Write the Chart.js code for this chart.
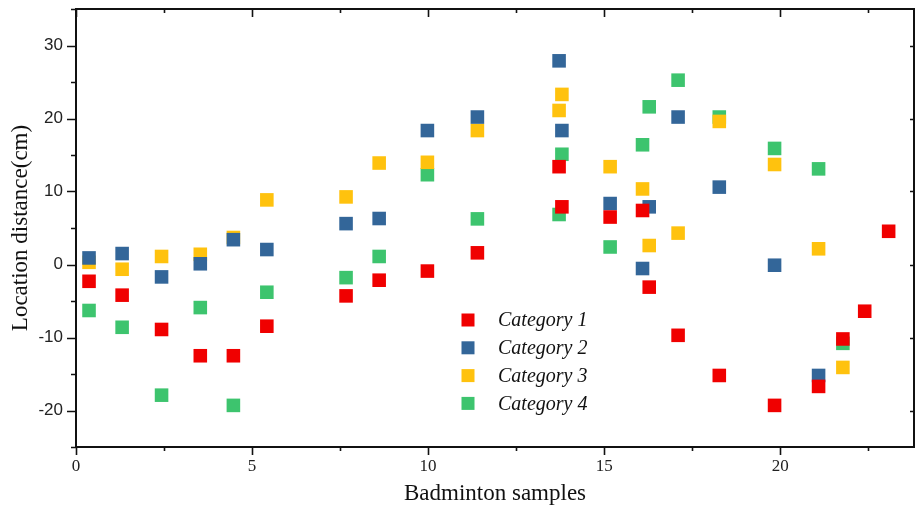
<!DOCTYPE html>
<html>
<head>
<meta charset="utf-8">
<script src="https://cdn.jsdelivr.net/npm/chart.js@4.4.1/dist/chart.umd.min.js"></script>
<style>
  html, body { margin: 0; padding: 0; background: #fff; }
  #wrap { width: 916px; height: 512px; }
</style>
</head>
<body>
<div id="wrap"><canvas id="chart" width="916" height="512"></canvas></div>
<script>
const cat1X = [0.37, 1.31, 2.43, 3.53, 4.47, 5.42, 7.67, 8.61, 9.98, 11.4, 13.72, 13.8, 15.17, 16.09, 16.28, 17.1, 18.27, 19.84, 21.09, 21.78, 22.4, 23.08];
const cat1Y = [-2.3, -4.2, -8.9, -12.5, -12.5, -8.45, -4.3, -2.15, -0.9, 1.6, 13.4, 7.9, 6.5, 7.4, -3.1, -9.7, -15.2, -19.3, -16.7, -10.2, -6.4, 4.55];

const cat2X = [0.37, 1.31, 2.43, 3.53, 4.47, 5.42, 7.67, 8.61, 9.98, 11.4, 13.72, 13.8, 15.17, 16.09, 16.28, 17.1, 18.27, 19.84, 21.09];
const cat2Y = [0.9, 1.5, -1.7, 0.1, 3.4, 2.05, 5.6, 6.3, 18.35, 20.2, 27.9, 18.35, 8.35, -0.55, 7.9, 20.2, 10.6, -0.1, -15.2];

const cat3X = [0.37, 1.31, 2.43, 3.53, 4.47, 5.42, 7.67, 8.61, 9.98, 11.4, 13.72, 13.8, 15.17, 16.09, 16.28, 17.1, 18.27, 19.84, 21.09, 21.78];
const cat3Y = [0.3, -0.65, 1.1, 1.4, 3.7, 8.85, 9.26, 13.9, 14.0, 18.35, 21.1, 23.3, 13.4, 10.35, 2.6, 4.3, 19.6, 13.7, 2.15, -14.1];

const cat4X = [0.37, 1.31, 2.43, 3.53, 4.47, 5.42, 7.67, 8.61, 9.98, 11.4, 13.72, 13.8, 15.17, 16.09, 16.28, 17.1, 18.27, 19.84, 21.09, 21.78];
const cat4Y = [-6.3, -8.6, -17.9, -5.9, -19.3, -3.8, -1.8, 1.1, 12.3, 6.25, 6.85, 15.1, 2.4, 16.4, 21.6, 25.25, 20.2, 15.9, 13.1, -10.8];

const categoryNames = ['Category 1', 'Category 2', 'Category 3', 'Category 4'];
const categoryColors = ['#f00000', '#336699', '#ffc20e', '#3dc46e'];

const xTicks = [0, 5, 10, 15, 20];
const yTicks = [-20, -10, 0, 10, 20, 30];

function toPoints(xs, ys) {
    return xs.map((x, i) => ({ x: x, y: ys[i] }));
}

const allX = [cat1X, cat2X, cat3X, cat4X];
const allY = [cat1Y, cat2Y, cat3Y, cat4Y];

const datasets = categoryNames.map((name, i) => ({
    label: name,
    data: toPoints(allX[i], allY[i]),
    backgroundColor: categoryColors[i],
    borderWidth: 0,
    pointStyle: 'rect',
    pointRadius: 9.6,
    pointHoverRadius: 9.6
}));

// no extra room for edge labels, the frame is placed by layout padding
function noEdgePadding(scale) {
    scale.paddingTop = 0;
    scale.paddingBottom = 0;
    scale.paddingLeft = 0;
    scale.paddingRight = 0;
}

// frame around the plot with origin-like tick marks
const frameTicks = {
    id: 'frameTicks',
    afterDraw(chart) {
        const ctx = chart.ctx;
        const a = chart.chartArea;
        const xs = chart.scales.x;
        const ys = chart.scales.y;
        ctx.save();
        ctx.strokeStyle = '#111';
        ctx.lineWidth = 2;
        ctx.strokeRect(a.left, a.top, a.right - a.left, a.bottom - a.top);
        ctx.lineWidth = 1.6;
        ctx.beginPath();
        for (let v = 0; v <= 23.8; v += 2.5) {
            const px = Math.round(xs.getPixelForValue(v)) + 0.5;
            const major = v % 5 === 0;
            ctx.moveTo(px, a.bottom);
            ctx.lineTo(px, a.bottom + (major ? 8 : 4));
            ctx.moveTo(px, a.top);
            ctx.lineTo(px, a.top + (major ? 8 : 4));
        }
        for (let v = -25; v <= 35; v += 5) {
            const py = Math.round(ys.getPixelForValue(v)) + 0.5;
            const major = v % 10 === 0;
            ctx.moveTo(a.left, py);
            ctx.lineTo(a.left - (major ? 9 : 5), py);
            if (major) {
                ctx.moveTo(a.right, py);
                ctx.lineTo(a.right - 4, py);
            }
        }
        ctx.stroke();
        ctx.restore();
    }
};

// legend drawn inside the plot area
const innerLegend = {
    id: 'innerLegend',
    afterDatasetsDraw(chart, args, opts) {
        const ctx = chart.ctx;
        ctx.save();
        ctx.font = 'italic 20px "Liberation Serif"';
        ctx.textBaseline = 'middle';
        chart.data.datasets.forEach((ds, i) => {
            const cy = opts.top + i * opts.rowGap;
            ctx.fillStyle = ds.backgroundColor;
            ctx.fillRect(opts.left - 6.5, cy - 6.5, 13, 13);
            ctx.fillStyle = '#111';
            ctx.fillText(ds.label, opts.textLeft, cy + 1);
        });
        ctx.restore();
    }
};

new Chart(document.getElementById('chart'), {
    type: 'scatter',
    data: { datasets: datasets },
    plugins: [frameTicks, innerLegend],
    options: {
        responsive: false,
        animation: false,
        layout: { autoPadding: false, padding: { top: 9, right: 2, left: 0, bottom: 0 } },
        plugins: {
            legend: { display: false },
            tooltip: { enabled: false },
            innerLegend: { left: 468, top: 320, rowGap: 27.8, textLeft: 498 }
        },
        scales: {
            x: {
                type: 'linear',
                min: 0,
                max: 23.8,
                grid: { display: false, drawTicks: false },
                border: { display: false },
                afterBuildTicks: scale => { scale.ticks = xTicks.map(v => ({ value: v })); },
                afterFit: scale => { scale.height = 65; noEdgePadding(scale); },
                ticks: {
                    padding: 9,
                    color: '#222',
                    font: { family: '"Liberation Serif"', size: 17 }
                },
                title: {
                    display: true,
                    text: 'Badminton samples',
                    color: '#111',
                    font: { family: '"Liberation Serif"', size: 23 },
                    padding: { top: 0, bottom: 4 }
                }
            },
            y: {
                type: 'linear',
                min: -25,
                max: 35,
                grid: { display: false, drawTicks: false },
                border: { display: false },
                afterBuildTicks: scale => { scale.ticks = yTicks.map(v => ({ value: v })); },
                afterFit: scale => { scale.width = 76; noEdgePadding(scale); },
                ticks: {
                    padding: 13,
                    color: '#222',
                    font: { family: '"Liberation Sans"', size: 17 }
                },
                title: {
                    display: true,
                    text: 'Location distance(cm)',
                    color: '#111',
                    font: { family: '"Liberation Serif"', size: 23 },
                    padding: { top: 7, bottom: 0 }
                }
            }
        }
    }
});
</script>
</body>
</html>
